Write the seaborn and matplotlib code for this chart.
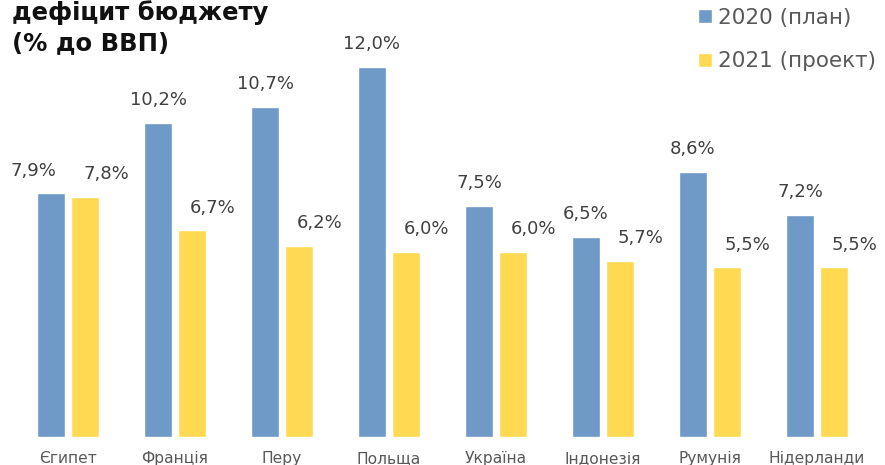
import pandas as pd
import seaborn as sns
import matplotlib.pyplot as plt

countries = ['Єгипет', 'Франція', 'Перу', 'Польща', 'Україна',
             'Індонезія', 'Румунія', 'Нідерланди']
plan_2020 = [7.9, 10.2, 10.7, 12.0, 7.5, 6.5, 8.6, 7.2]
proj_2021 = [7.8, 6.7, 6.2, 6.0, 6.0, 5.7, 5.5, 5.5]
series = ['2020 (план)', '2021 (проект)']
colors = ['#6f99c6', '#ffd952']

df = pd.DataFrame({
    'country': countries * 2,
    'value': plan_2020 + proj_2021,
    'year': [series[0]] * len(countries) + [series[1]] * len(countries),
})

sns.set_style('white')
plt.rcParams['font.family'] = ['DejaVu Sans']

fig = plt.figure(figsize=(8.85, 4.65), dpi=100)
ax = fig.add_axes([0, 28 / 465, 1, 437 / 465])

sns.barplot(data=df, x='country', y='value', hue='year', palette=colors,
            width=0.636, gap=0.2, saturation=1, ax=ax, legend=True)

ax.set_xlim(-0.636, 7.636)
ax.set_ylim(0, 437 / 30.83)
for s in ax.spines.values():
    s.set_visible(False)
ax.set_yticks([])
ax.set_xlabel('')
ax.set_ylabel('')
ax.tick_params(axis='x', length=0, pad=10, labelsize=11.2, labelcolor='#595959')

# value labels
for j, cont in enumerate(ax.containers):
    for i, bar in enumerate(cont):
        val = bar.get_height()
        dx = 15 if j == 1 else 0
        if j == 0 and i == 0:
            dx = -13
        ax.annotate(f'{val:.1f}%'.replace('.', ','),
                    (bar.get_x() + bar.get_width() / 2, val),
                    xytext=(dx, 10), textcoords='offset points',
                    ha='center', va='bottom', fontsize=13, color='#404040')

leg = ax.legend(loc='upper right', bbox_to_anchor=(1.012, 1.027),
                frameon=False, fontsize=15.5, labelcolor='#595959',
                handlelength=0.65, handleheight=0.65, handletextpad=0.3,
                labelspacing=1.1)

# title (top is clipped in the original too)
fig.text(0.014, 1 - 20 / 465, 'дефіцит бюджету', ha='left', va='baseline',
         fontsize=17.5, fontweight='bold', color='#111111')
fig.text(0.014, 1 - 50 / 465, '(% до ВВП)', ha='left', va='baseline',
         fontsize=17.5, fontweight='bold', color='#111111')

fig.savefig('out.png', dpi=100)
